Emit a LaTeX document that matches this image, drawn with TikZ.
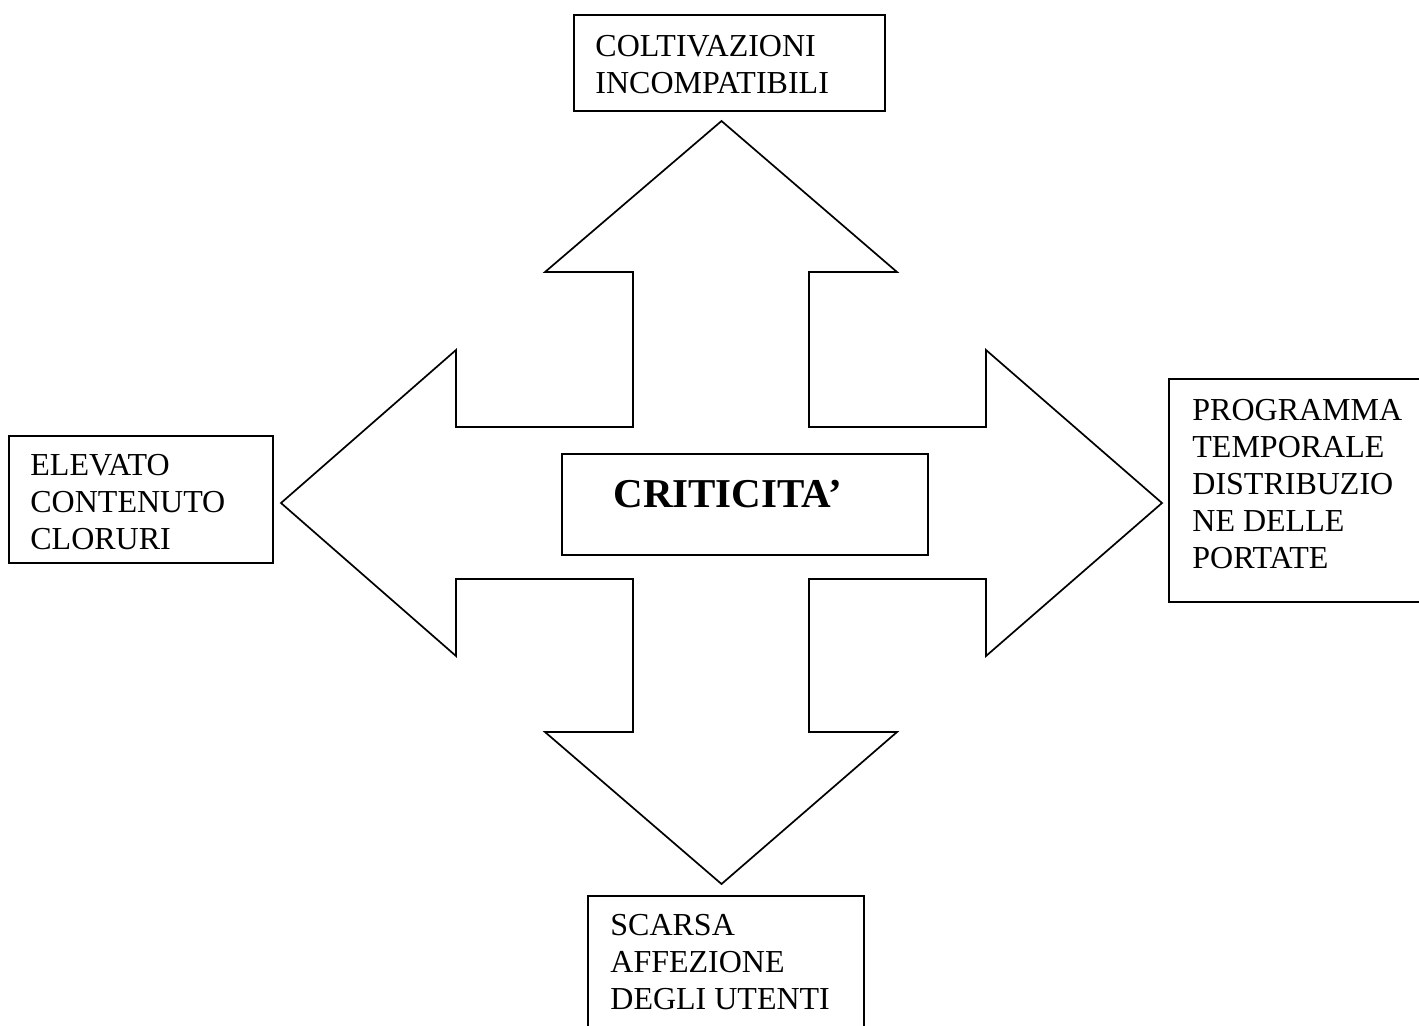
\documentclass[tikz,border=0pt]{standalone}
\usepackage{fontspec}
\setmainfont{Liberation Serif}
\usetikzlibrary{fit}
\begin{document}
\begin{tikzpicture}[x=0.5pt,y=-0.5pt,
  box/.style={draw, line width=1pt, inner sep=0pt},
  lbl/.style={anchor=base west, inner sep=0pt, align=left,
    font=\fontsize{16pt}{18.5pt}\selectfont},
  crossline/.style={draw, line width=0.85pt, line join=miter}]
\clip (0,0) rectangle (1419,1025);
\fill[white] (0,0) rectangle (1419,1025);
% four-way arrow
\draw[crossline] (721.5,121) -- (897,272) -- (809,272) -- (809,427) -- (986,427)
  -- (986,350) -- (1162,503) -- (986,656) -- (986,579) -- (809,579) -- (809,732)
  -- (897,732) -- (721.5,884) -- (545,732) -- (633,732) -- (633,579) -- (456,579)
  -- (456,656) -- (281,503) -- (456,350) -- (456,427) -- (633,427) -- (633,272)
  -- (545,272) -- cycle;
% boxes
\node[box, fit={(574,15)(885,111)}] (topbox) {};
\node[box, fit={(9,436)(273,563)}] (leftbox) {};
\node[box, fit={(1169,379)(1430,602)}] (rightbox) {};
\node[box, fit={(588,896)(864,1040)}] (bottombox) {};
\node[box, fit={(562,454)(928,555)}] (centerbox) {};
% texts (anchored at the baseline of the last line)
\node[lbl] (toptext) at (595,93) {COLTIVAZIONI\\INCOMPATIBILI};
\node[lbl] (lefttext) at (30,549) {ELEVATO\\CONTENUTO\\CLORURI};
\node[lbl] (righttext) at (1192,568) {PROGRAMMA\\TEMPORALE\\DISTRIBUZIO\\NE DELLE\\PORTATE};
\node[lbl] (bottomtext) at (610,1009) {SCARSA\\AFFEZIONE\\DEGLI UTENTI};
\node[anchor=base west, inner sep=0pt, font=\fontsize{20.5pt}{24pt}\selectfont\bfseries] (centertext) at (613,507) {CRITICITA’};
\end{tikzpicture}
\end{document}
